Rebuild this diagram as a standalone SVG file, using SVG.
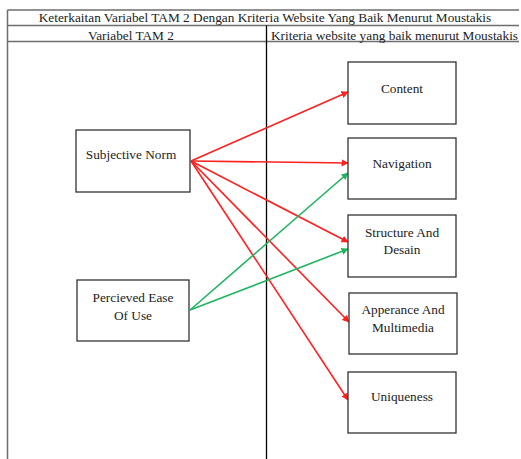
<svg xmlns="http://www.w3.org/2000/svg" width="521" height="459" viewBox="0 0 521 459">
<style>
.tbl{stroke:#6e6e6e;stroke-width:1.5;fill:none}
.div{stroke:#000;stroke-width:1.3;fill:none}
.box{fill:#fff;stroke:#333;stroke-width:1.3}
.t{font-family:"Liberation Serif","Times New Roman",serif;font-size:13.3px;fill:#222;text-anchor:middle}
.r{stroke:#ff2020;stroke-width:1.6;fill:none;marker-end:url(#ar)}
.g{stroke:#1fb560;stroke-width:1.6;fill:none;marker-end:url(#ag)}
</style>
<defs>
<marker id="ar" viewBox="0 0 10 10" refX="9" refY="5" markerWidth="4.5" markerHeight="4.5" orient="auto" markerUnits="strokeWidth"><path d="M0,0 L10,5 L0,10 z" fill="#ff2020"/></marker>
<marker id="ag" viewBox="0 0 10 10" refX="9" refY="5" markerWidth="4.5" markerHeight="4.5" orient="auto" markerUnits="strokeWidth"><path d="M0,0 L10,5 L0,10 z" fill="#1fb560"/></marker>
</defs>
<rect width="521" height="459" fill="#fff"/>
<g id="table">
<path class="tbl" d="M7.5,10 H519 M7.5,25.5 H519 M7.5,41.5 H519 M7.5,10 V459"/>
<path class="div" d="M266.5,25.5 V459"/>
<text class="t" x="265" y="22" fill="#111" font-family="Liberation Serif, serif">Keterkaitan Variabel TAM 2 Dengan Kriteria Website Yang Baik Menurut Moustakis</text>
<text class="t" x="131" y="39.5" font-family="Liberation Serif, serif">Variabel TAM 2</text>
<text class="t" x="394.5" y="39.5" font-family="Liberation Serif, serif">Kriteria website yang baik menurut Moustakis</text>
</g>
<g id="connectors">
<line class="r" x1="191" y1="161" x2="348" y2="92"/>
<line class="r" x1="191" y1="161" x2="348" y2="163"/>
<line class="r" x1="191" y1="161" x2="348" y2="242"/>
<line class="r" x1="191" y1="161" x2="349" y2="322"/>
<line class="r" x1="191" y1="161" x2="348" y2="400"/>
<line class="g" x1="190" y1="310" x2="348" y2="173"/>
<line class="g" x1="190" y1="310" x2="348" y2="249"/>
</g>
<g id="subjective-norm" font-family="Liberation Serif, serif">
<rect class="box" x="76" y="130" width="114" height="62"/>
<text class="t" x="131" y="159">Subjective Norm</text>
</g>
<g id="percieved-ease-of-use" font-family="Liberation Serif, serif">
<rect class="box" x="77" y="280" width="112" height="61"/>
<text class="t" x="133" y="302">Percieved Ease</text>
<text class="t" x="133" y="320">Of Use</text>
</g>
<g id="content" font-family="Liberation Serif, serif">
<rect class="box" x="348" y="62" width="108" height="62"/>
<text class="t" x="402" y="93">Content</text>
</g>
<g id="navigation" font-family="Liberation Serif, serif">
<rect class="box" x="348" y="138" width="108" height="61"/>
<text class="t" x="402" y="167.5">Navigation</text>
</g>
<g id="structure-and-desain" font-family="Liberation Serif, serif">
<rect class="box" x="348" y="215" width="108" height="62"/>
<text class="t" x="402" y="237">Structure And</text>
<text class="t" x="402" y="254">Desain</text>
</g>
<g id="apperance-and-multimedia" font-family="Liberation Serif, serif">
<rect class="box" x="349" y="293" width="108" height="61"/>
<text class="t" x="403" y="314">Apperance And</text>
<text class="t" x="403" y="332">Multimedia</text>
</g>
<g id="uniqueness" font-family="Liberation Serif, serif">
<rect class="box" x="348" y="372" width="108" height="61"/>
<text class="t" x="402" y="400.5">Uniqueness</text>
</g>
</svg>
